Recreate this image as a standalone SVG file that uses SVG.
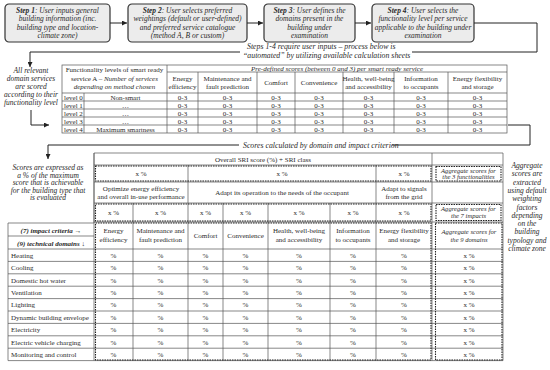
<svg xmlns="http://www.w3.org/2000/svg" width="550" height="370" viewBox="0 0 550 370">
<defs>
<marker id="ah" viewBox="0 0 6 6" refX="6" refY="3" markerWidth="5" markerHeight="5" orient="auto"><path d="M0,0 L6,3 L0,6 z" fill="#222"/></marker>
<style>
text{font-family:"Liberation Serif","Times New Roman",serif;fill:#2a2a2a;}
.st{font-size:7.5px;font-style:italic;text-anchor:middle}
.b{font-weight:bold}
.box{fill:#ececec;stroke:#333;stroke-width:1.2}
.c{fill:none;stroke:#222;stroke-width:1}
.g{stroke:#555;stroke-width:0.7;fill:none}
.d{stroke:#222;stroke-width:1.1;stroke-dasharray:1.6 0.9;fill:none}
.t{font-size:7px;text-anchor:middle}
.tl{font-size:7px}
.i{font-style:italic}
.a{font-size:6.6px;font-style:italic;text-anchor:middle}
.n{font-size:7.5px;font-style:italic;text-anchor:middle}
.ns{font-size:7.8px;font-style:italic}
</style>
</defs>
<rect width="550" height="370" fill="#fff"/>

<g id="step1">
<rect class="box" x="5" y="4" width="105" height="38" rx="4"/>
<text class="st" x="57.5" y="12.5"><tspan class="b">Step 1</tspan>: User inputs general</text>
<text class="st" x="57.5" y="21">building information (inc.</text>
<text class="st" x="57.5" y="29.5">building type and location-</text>
<text class="st" x="57.5" y="38">climate zone)</text>
</g>
<g id="step2">
<rect class="box" x="128" y="4" width="119" height="38" rx="4"/>
<text class="st" x="187.5" y="12.5"><tspan class="b">Step 2</tspan>: User selects preferred</text>
<text class="st" x="187.5" y="21">weightings (default or user-defined)</text>
<text class="st" x="187.5" y="29.5">and preferred service catalogue</text>
<text class="st" x="187.5" y="38">(method A, B or custom)</text>
</g>
<g id="step3">
<rect class="box" x="264" y="4" width="91" height="38" rx="4"/>
<text class="st" x="309.5" y="12.5"><tspan class="b">Step 3</tspan>: User defines the</text>
<text class="st" x="309.5" y="21">domains present in the</text>
<text class="st" x="309.5" y="29.5">building under</text>
<text class="st" x="309.5" y="38">examination</text>
</g>
<g id="step4">
<rect class="box" x="372" y="4" width="102" height="38" rx="4"/>
<text class="st" x="423" y="12.5"><tspan class="b">Step 4</tspan>: User selects the</text>
<text class="st" x="423" y="21">functionality level per service</text>
<text class="st" x="423" y="29.5">applicable to the building under</text>
<text class="st" x="423" y="38">examination</text>
</g>

<g id="connectors">
<path class="c" d="M110,23 H127" marker-end="url(#ah)"/>
<path class="c" d="M247,23 H263" marker-end="url(#ah)"/>
<path class="c" d="M355,23 H371" marker-end="url(#ah)"/>
<path class="c" d="M474,23 H537 V52 H412"/>
<path class="c" d="M240,52 H30 V67" marker-end="url(#ah)"/>
<path class="c" d="M31,110 V125 H49" marker-end="url(#ah)"/>
<path class="c" d="M508,125 H530 V145 H392"/>
<path class="c" d="M239,145 H48 V159" marker-end="url(#ah)"/>
</g>

<g id="note-steps">
<text class="ns" x="247" y="49">Steps 1-4 require user inputs – process below is</text>
<text class="ns" x="243" y="58">“automated” by utilizing available calculation sheets</text>
</g>
<g id="note-scored">
<text class="n" x="31" y="73">All relevant</text>
<text class="n" x="31" y="81">domain services</text>
<text class="n" x="31" y="89">are scored</text>
<text class="n" x="31" y="97">according to their</text>
<text class="n" x="31" y="105">functionality level</text>
</g>
<g id="note-calc">
<text class="ns" x="243" y="147.5">Scores calculated by domain and impact criterion</text>
</g>
<g id="note-percent">
<text class="n" x="48" y="170">Scores are expressed as</text>
<text class="n" x="48" y="177.5">a % of the maximum</text>
<text class="n" x="48" y="185">score that is achievable</text>
<text class="n" x="48" y="192.5">for the building type that</text>
<text class="n" x="48" y="200">is evaluated</text>
</g>
<g id="note-aggregate">
<text class="n" x="527" y="168">Aggregate</text>
<text class="n" x="527" y="176.3">scores are</text>
<text class="n" x="527" y="184.6">extracted</text>
<text class="n" x="527" y="192.9">using default</text>
<text class="n" x="527" y="201.2">weighting</text>
<text class="n" x="527" y="209.5">factors</text>
<text class="n" x="527" y="217.8">depending</text>
<text class="n" x="527" y="226.1">on the</text>
<text class="n" x="527" y="234.4">building</text>
<text class="n" x="527" y="242.7">typology and</text>
<text class="n" x="527" y="251">climate zone</text>
</g>

<g id="table-levels">
<rect class="g" x="62" y="65" width="445" height="68"/>
<path class="g" d="M167,65 V133 M198,72 V133 M257,72 V133 M295,72 V133 M343,72 V133 M394,72 V133 M448,72 V133 M84,93 V133 M167,72 H507 M62,93 H507 M62,101 H507 M62,109 H507 M62,117 H507 M62,125 H507"/>
<text class="t" x="114.5" y="72">Functionality levels of smart ready</text>
<text class="t" x="114.5" y="80.5">service A – <tspan class="i">Number of services</tspan></text>
<text class="t i" x="114.5" y="89">depending on method chosen</text>
<text class="t i" x="337" y="70.5">Pre-defined scores (between 0 and 3) per smart ready service</text>
<text class="t" x="182.5" y="81">Energy</text><text class="t" x="182.5" y="89">efficiency</text>
<text class="t" x="227.5" y="81">Maintenance and</text><text class="t" x="227.5" y="89">fault prediction</text>
<text class="t" x="276" y="85">Comfort</text>
<text class="t" x="319" y="85">Convenience</text>
<text class="t" x="368.5" y="81">Health, well-being</text><text class="t" x="368.5" y="89">and accessibility</text>
<text class="t" x="421" y="81">Information</text><text class="t" x="421" y="89">to occupants</text>
<text class="t" x="477.5" y="81">Energy flexibility</text><text class="t" x="477.5" y="89">and storage</text>
<g class="tl">
<text x="64" y="99.5">level 0</text><text x="64" y="107.5">level 1</text><text x="64" y="115.5">level 2</text><text x="64" y="123.5">level 3</text><text x="64" y="131.5">level 4</text>
</g>
<text class="t" x="125.5" y="99.5">Non-smart</text>
<text class="t" x="125.5" y="107.5" fill="#999">…</text>
<text class="t" x="125.5" y="115.5" fill="#999">…</text>
<text class="t" x="125.5" y="123.5" fill="#999">…</text>
<text class="t" x="125.5" y="131.5">Maximum smartness</text>
<g class="t">
<text x="182.5" y="99.5">0-3</text><text x="227.5" y="99.5">0-3</text><text x="276" y="99.5">0-3</text><text x="319" y="99.5">0-3</text><text x="368.5" y="99.5">0-3</text><text x="421" y="99.5">0-3</text><text x="477.5" y="99.5">0-3</text>
<text x="182.5" y="107.5">0-3</text><text x="227.5" y="107.5">0-3</text><text x="276" y="107.5">0-3</text><text x="319" y="107.5">0-3</text><text x="368.5" y="107.5">0-3</text><text x="421" y="107.5">0-3</text><text x="477.5" y="107.5">0-3</text>
<text x="182.5" y="115.5">0-3</text><text x="227.5" y="115.5">0-3</text><text x="276" y="115.5">0-3</text><text x="319" y="115.5">0-3</text><text x="368.5" y="115.5">0-3</text><text x="421" y="115.5">0-3</text><text x="477.5" y="115.5">0-3</text>
<text x="182.5" y="123.5">0-3</text><text x="227.5" y="123.5">0-3</text><text x="276" y="123.5">0-3</text><text x="319" y="123.5">0-3</text><text x="368.5" y="123.5">0-3</text><text x="421" y="123.5">0-3</text><text x="477.5" y="123.5">0-3</text>
<text x="182.5" y="131.5">0-3</text><text x="227.5" y="131.5">0-3</text><text x="276" y="131.5">0-3</text><text x="319" y="131.5">0-3</text><text x="368.5" y="131.5">0-3</text><text x="421" y="131.5">0-3</text><text x="477.5" y="131.5">0-3</text>
</g>
</g>

<g id="table-sri">
<path class="g" d="M94,153 H503 V360.6 H8 V223 H94 Z M94,153 V360.6 M432,153 V360.6 M188,165 V360.6 M376,165 V360.6 M133,203 V360.6 M223,203 V360.6 M268,203 V360.6 M330,203 V360.6 M94,165 H503 M94,182 H503 M94,203 H503 M94,222 H503 M8,236 H94 M8,249 H503 M8,261.4 H503 M8,273.8 H503 M8,286.2 H503 M8,298.6 H503 M8,311 H503 M8,323.4 H503 M8,335.8 H503 M8,348.2 H503"/>
<rect class="d" x="95.5" y="166" width="335.5" height="15"/>
<rect class="d" x="436" y="166.5" width="65" height="14.5"/>
<rect class="d" x="95.5" y="204" width="335.5" height="17"/>
<rect class="d" x="436" y="204.5" width="65" height="16"/>
<rect class="d" x="95.5" y="223" width="335.5" height="137"/>
<rect class="d" x="435.5" y="223" width="66.5" height="137"/>
<text class="t" x="263" y="161.5">Overall SRI score (%) + SRI class</text>
<text class="t" x="141" y="176">x %</text><text class="t" x="282" y="176">x %</text><text class="t" x="404" y="176">x %</text>
<text class="a" x="468.5" y="172.5">Aggregate scores for</text><text class="a" x="468.5" y="179.3">the 3 functionalities</text>
<text class="t" x="141" y="190.5">Optimize energy efficiency</text><text class="t" x="141" y="198.5">and overall in-use performance</text>
<text class="t" x="282" y="194.5">Adapt its operation to the needs of the occupant</text>
<text class="t" x="404" y="190.5">Adapt to signals</text><text class="t" x="404" y="198.5">from the grid</text>
<g class="t">
<text x="113.5" y="215">x %</text><text x="160.5" y="215">x %</text><text x="205.5" y="215">x %</text><text x="245.5" y="215">x %</text><text x="299" y="215">x %</text><text x="353" y="215">x %</text><text x="404" y="215">x %</text>
</g>
<text class="a" x="468.5" y="211">Aggregate scores for</text><text class="a" x="468.5" y="218.3">the 7 impacts</text>
<text class="t b i" x="51" y="232.5">(7) impact criteria →</text>
<text class="t b i" x="51" y="245.5">(9) technical domains ↓</text>
<text class="t" x="113.5" y="233">Energy</text><text class="t" x="113.5" y="241.5">efficiency</text>
<text class="t" x="160.5" y="233">Maintenance and</text><text class="t" x="160.5" y="241.5">fault prediction</text>
<text class="t" x="205.5" y="238">Comfort</text>
<text class="t" x="245.5" y="238">Convenience</text>
<text class="t" x="299" y="233">Health, well-being</text><text class="t" x="299" y="241.5">and accessibility</text>
<text class="t" x="353" y="233">Information</text><text class="t" x="353" y="241.5">to occupants</text>
<text class="t" x="404" y="233">Energy flexibility</text><text class="t" x="404" y="241.5">and storage</text>
<text class="a" x="469" y="234">Aggregate scores for</text><text class="a" x="469" y="241.5">the 9 domains</text>
<g class="tl">
<text x="11" y="257.7">Heating</text>
<text x="11" y="270.1">Cooling</text>
<text x="11" y="282.5">Domestic hot water</text>
<text x="11" y="294.9">Ventilation</text>
<text x="11" y="307.3">Lighting</text>
<text x="11" y="319.7">Dynamic building envelope</text>
<text x="11" y="332.1">Electricity</text>
<text x="11" y="344.5">Electric vehicle charging</text>
<text x="11" y="356.9">Monitoring and control</text>
</g>
<g class="t">
<text x="113.5" y="257.7">%</text><text x="160.5" y="257.7">%</text><text x="205.5" y="257.7">%</text><text x="245.5" y="257.7">%</text><text x="299" y="257.7">%</text><text x="353" y="257.7">%</text><text x="404" y="257.7">%</text><text x="469" y="257.7">x %</text>
<text x="113.5" y="270.1">%</text><text x="160.5" y="270.1">%</text><text x="205.5" y="270.1">%</text><text x="245.5" y="270.1">%</text><text x="299" y="270.1">%</text><text x="353" y="270.1">%</text><text x="404" y="270.1">%</text><text x="469" y="270.1">x %</text>
<text x="113.5" y="282.5">%</text><text x="160.5" y="282.5">%</text><text x="205.5" y="282.5">%</text><text x="245.5" y="282.5">%</text><text x="299" y="282.5">%</text><text x="353" y="282.5">%</text><text x="404" y="282.5">%</text><text x="469" y="282.5">x %</text>
<text x="113.5" y="294.9">%</text><text x="160.5" y="294.9">%</text><text x="205.5" y="294.9">%</text><text x="245.5" y="294.9">%</text><text x="299" y="294.9">%</text><text x="353" y="294.9">%</text><text x="404" y="294.9">%</text><text x="469" y="294.9">x %</text>
<text x="113.5" y="307.3">%</text><text x="160.5" y="307.3">%</text><text x="205.5" y="307.3">%</text><text x="245.5" y="307.3">%</text><text x="299" y="307.3">%</text><text x="353" y="307.3">%</text><text x="404" y="307.3">%</text><text x="469" y="307.3">x %</text>
<text x="113.5" y="319.7">%</text><text x="160.5" y="319.7">%</text><text x="205.5" y="319.7">%</text><text x="245.5" y="319.7">%</text><text x="299" y="319.7">%</text><text x="353" y="319.7">%</text><text x="404" y="319.7">%</text><text x="469" y="319.7">x %</text>
<text x="113.5" y="332.1">%</text><text x="160.5" y="332.1">%</text><text x="205.5" y="332.1">%</text><text x="245.5" y="332.1">%</text><text x="299" y="332.1">%</text><text x="353" y="332.1">%</text><text x="404" y="332.1">%</text><text x="469" y="332.1">x %</text>
<text x="113.5" y="344.5">%</text><text x="160.5" y="344.5">%</text><text x="205.5" y="344.5">%</text><text x="245.5" y="344.5">%</text><text x="299" y="344.5">%</text><text x="353" y="344.5">%</text><text x="404" y="344.5">%</text><text x="469" y="344.5">x %</text>
<text x="113.5" y="356.9">%</text><text x="160.5" y="356.9">%</text><text x="205.5" y="356.9">%</text><text x="245.5" y="356.9">%</text><text x="299" y="356.9">%</text><text x="353" y="356.9">%</text><text x="404" y="356.9">%</text><text x="469" y="356.9">x %</text>
</g>
</g>
</svg>
